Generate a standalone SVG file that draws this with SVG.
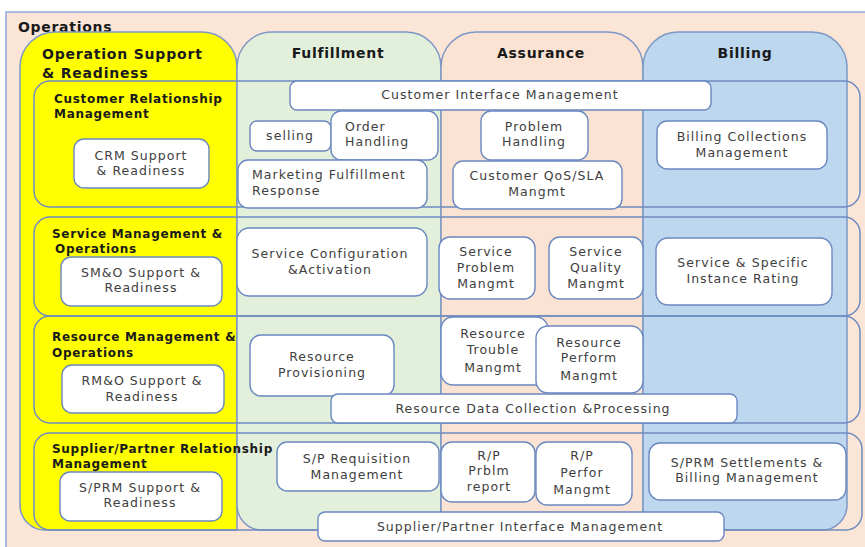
<svg xmlns="http://www.w3.org/2000/svg" width="865" height="547" viewBox="0 0 865 547">
<style>
.col{stroke:#7D98C6;stroke-width:1.5}
.row{fill:none;stroke:#6F8CC0;stroke-width:1.5}
.box{fill:#FFFFFF;stroke:#6A88C0;stroke-width:1.4}
.t{font-family:"DejaVu Sans","Liberation Sans",sans-serif;font-size:12.5px;fill:#404040;letter-spacing:1.05px;text-anchor:middle}
.tl{text-anchor:start}
.h{font-family:"DejaVu Sans","Liberation Sans",sans-serif;font-weight:bold;fill:#1A1A1A}
.h1{font-size:14px;letter-spacing:0.8px}
.h2{font-size:12px;letter-spacing:0.7px}
.hc{font-size:14px;letter-spacing:0.7px;text-anchor:middle}
</style>
<rect width="865" height="547" fill="#FFFFFF"/>
<g id="operations">
<rect x="6" y="12" width="870" height="545" fill="#FBE5D6" stroke="#8EA9DB" stroke-width="1.5"/>
<text class="h" x="18" y="32" font-size="14" letter-spacing="0.7">Operations</text>
</g>
<g id="col-osr">
<path class="col" fill="#FFFF00" d="M20,67 A35,35 0 0 1 55,32 H202 A35,35 0 0 1 237,67 V530 H45 A25,25 0 0 1 20,505 Z"/>
<text class="h h1" x="42" y="59">Operation Support</text>
<text class="h h1" x="42" y="78">&amp; Readiness</text>
</g>
<g id="col-fulfillment">
<path class="col" fill="#E2EFDA" d="M237,67 A35,35 0 0 1 272,32 H406 A35,35 0 0 1 441,67 V530 H262 A25,25 0 0 1 237,505 Z"/>
<text class="h hc" x="338" y="58">Fulfillment</text>
</g>
<g id="col-assurance">
<path class="col" fill="#FBE3D4" d="M441,67 A35,35 0 0 1 476,32 H608 A35,35 0 0 1 643,67 V530 H441 Z"/>
<text class="h hc" x="541" y="58">Assurance</text>
</g>
<g id="col-billing">
<path class="col" fill="#BDD7EE" d="M643,67 A35,35 0 0 1 678,32 H812 A35,35 0 0 1 847,67 V505 A25,25 0 0 1 822,530 H643 Z"/>
<text class="h hc" x="745" y="58">Billing</text>
</g>
<g id="rows">
<rect class="row" x="34" y="81" width="826" height="126" rx="16"/>
<rect class="row" x="34" y="217" width="826" height="99" rx="16"/>
<rect class="row" x="34" y="316" width="826" height="107" rx="16"/>
<rect class="row" x="34" y="433" width="828" height="97" rx="16"/>
<text class="h h2" x="54" y="103">Customer Relationship</text>
<text class="h h2" x="54" y="118">Management</text>
<text class="h h2" x="52" y="238">Service Management &amp;</text>
<text class="h h2" x="55" y="253">Operations</text>
<text class="h h2" x="52" y="341">Resource Management &amp;</text>
<text class="h h2" x="52" y="357">Operations</text>
<text class="h h2" x="52" y="453">Supplier/Partner Relationship</text>
<text class="h h2" x="52" y="468">Management</text>
</g>
<g id="crm-support">
<rect class="box" x="74" y="139" width="135" height="49" rx="10"/>
<text class="t" x="141" y="160">CRM Support</text>
<text class="t" x="141" y="175">&amp; Readiness</text>
</g>
<g id="customer-interface">
<rect class="box" x="290" y="81" width="421" height="29" rx="7"/>
<text class="t" x="500" y="99">Customer Interface Management</text>
</g>
<g id="selling">
<rect class="box" x="250" y="121" width="81" height="30" rx="7"/>
<text class="t" x="290" y="140">selling</text>
</g>
<g id="order-handling">
<rect class="box" x="331" y="111" width="107" height="49" rx="10"/>
<text class="t tl" x="345" y="131">Order</text>
<text class="t tl" x="345" y="146">Handling</text>
</g>
<g id="marketing">
<rect class="box" x="238" y="160" width="189" height="48" rx="10"/>
<text class="t tl" x="252" y="179">Marketing Fulfillment</text>
<text class="t tl" x="252" y="195">Response</text>
</g>
<g id="problem-handling">
<rect class="box" x="481" y="111" width="107" height="49" rx="10"/>
<text class="t" x="534" y="131">Problem</text>
<text class="t" x="534" y="146">Handling</text>
</g>
<g id="qos-sla">
<rect class="box" x="453" y="161" width="169" height="48" rx="10"/>
<text class="t" x="537" y="180">Customer QoS/SLA</text>
<text class="t" x="537" y="196">Mangmt</text>
</g>
<g id="billing-collections">
<rect class="box" x="657" y="121" width="170" height="48" rx="10"/>
<text class="t" x="742" y="141">Billing Collections</text>
<text class="t" x="742" y="157">Management</text>
</g>
<g id="smo-support">
<rect class="box" x="61" y="257" width="161" height="49" rx="10"/>
<text class="t" x="141" y="277">SM&amp;O Support &amp;</text>
<text class="t" x="141" y="292">Readiness</text>
</g>
<g id="service-config">
<rect class="box" x="237" y="228" width="190" height="68" rx="12"/>
<text class="t" x="330" y="258">Service Configuration</text>
<text class="t" x="330" y="274">&amp;Activation</text>
</g>
<g id="service-problem">
<rect class="box" x="439" y="237" width="96" height="62" rx="11"/>
<text class="t" x="486" y="256">Service</text>
<text class="t" x="486" y="272">Problem</text>
<text class="t" x="486" y="288">Mangmt</text>
</g>
<g id="service-quality">
<rect class="box" x="549" y="237" width="94" height="62" rx="11"/>
<text class="t" x="596" y="256">Service</text>
<text class="t" x="596" y="272">Quality</text>
<text class="t" x="596" y="288">Mangmt</text>
</g>
<g id="service-rating">
<rect class="box" x="656" y="238" width="176" height="67" rx="12"/>
<text class="t" x="743" y="267">Service &amp; Specific</text>
<text class="t" x="743" y="283">Instance Rating</text>
</g>
<g id="rmo-support">
<rect class="box" x="62" y="365" width="162" height="48" rx="10"/>
<text class="t" x="142" y="385">RM&amp;O Support &amp;</text>
<text class="t" x="142" y="401">Readiness</text>
</g>
<g id="resource-provisioning">
<rect class="box" x="250" y="335" width="144" height="61" rx="11"/>
<text class="t" x="322" y="361">Resource</text>
<text class="t" x="322" y="377">Provisioning</text>
</g>
<g id="resource-trouble">
<rect class="box" x="441" y="317" width="107" height="68" rx="12"/>
<text class="t" x="493" y="338">Resource</text>
<text class="t" x="493" y="354">Trouble</text>
<text class="t" x="493" y="372">Mangmt</text>
</g>
<g id="resource-perform">
<rect class="box" x="536" y="326" width="107" height="67" rx="12"/>
<text class="t" x="589" y="347">Resource</text>
<text class="t" x="589" y="362">Perform</text>
<text class="t" x="589" y="380">Mangmt</text>
</g>
<g id="resource-data">
<rect class="box" x="331" y="394" width="406" height="29" rx="7"/>
<text class="t" x="533" y="413">Resource Data Collection &amp;Processing</text>
</g>
<g id="sprm-support">
<rect class="box" x="60" y="472" width="162" height="49" rx="10"/>
<text class="t" x="140" y="492">S/PRM Support &amp;</text>
<text class="t" x="140" y="507">Readiness</text>
</g>
<g id="sp-requisition">
<rect class="box" x="277" y="442" width="162" height="49" rx="10"/>
<text class="t" x="357" y="463">S/P Requisition</text>
<text class="t" x="357" y="479">Management</text>
</g>
<g id="rp-prblm">
<rect class="box" x="441" y="442" width="94" height="60" rx="11"/>
<text class="t" x="489" y="460" font-size="11.5" letter-spacing="0.6">R/P</text>
<text class="t" x="489" y="475" font-size="11.5" letter-spacing="0.6">Prblm</text>
<text class="t" x="489" y="491" font-size="11.5" letter-spacing="0.6">report</text>
</g>
<g id="rp-perfor">
<rect class="box" x="536" y="442" width="96" height="63" rx="11"/>
<text class="t" x="582" y="460" font-size="11.5" letter-spacing="0.6">R/P</text>
<text class="t" x="582" y="477">Perfor</text>
<text class="t" x="582" y="494">Mangmt</text>
</g>
<g id="sprm-settlements">
<rect class="box" x="649" y="443" width="197" height="57" rx="11"/>
<text class="t" x="747" y="467">S/PRM Settlements &amp;</text>
<text class="t" x="747" y="482">Billing Management</text>
</g>
<g id="sp-interface">
<rect class="box" x="318" y="512" width="406" height="29" rx="7"/>
<text class="t" x="520" y="531">Supplier/Partner Interface Management</text>
</g>
</svg>
